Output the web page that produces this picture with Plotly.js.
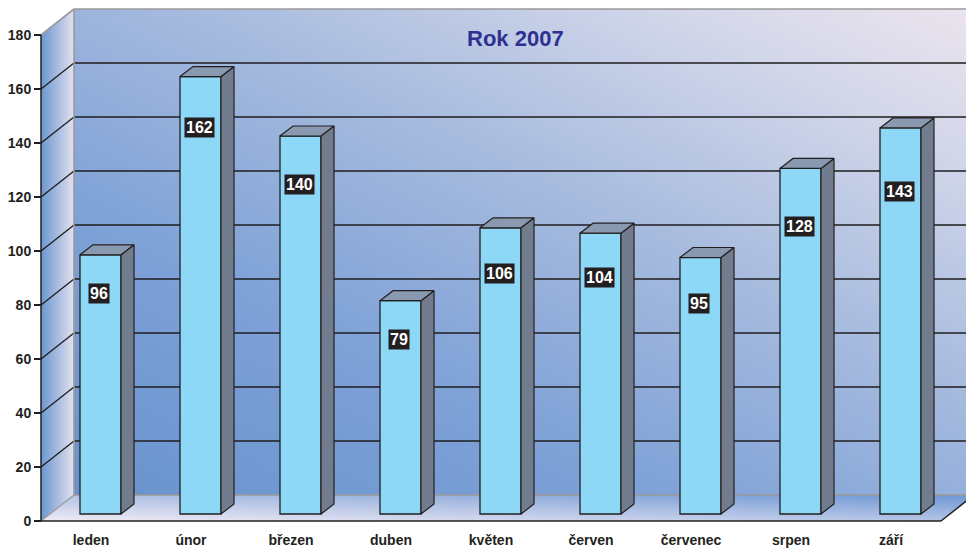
<!DOCTYPE html>
<html>
<head>
<meta charset="utf-8">
<script src="https://cdn.plot.ly/plotly-3.0.1.min.js"></script>
<style>html,body{margin:0;padding:0;background:#fff;}#chart{width:966px;height:549px;}</style>
</head>
<body>
<div id="chart"></div>
<script>
// ---- data ----
const months = ['leden','únor','březen','duben','květen','červen','červenec','srpen','září'];
const values = [96,162,140,79,106,104,95,128,143];
const yTickVals = [0,20,40,60,80,100,120,140,160,180];
const chartTitle = 'Rok 2007';
// label centres (axis units)
const labelY = [84.2,145.6,124.8,67.3,91.5,90.1,80.4,109,122];

// ---- geometry / styling ----
const W = 966, H = 549, ML = 39, MB = 26;
const PW = W - ML, PH = H - MB;
const PXU = 100;          // px per category
const PYU = 2.7;          // px per value unit
const PADX = 2, PADY = 2; // plot area extends a little beyond the front axes
const X0 = -0.5 - PADX / PXU, X1 = X0 + PW / PXU;
const Y0 = -PADY / PYU, Y1 = Y0 + PH / PYU;
const XMIN = -0.5, XEND = 8.5;
const DX = 0.33, DY = 26 / PYU;       // wall depth
const BX = 0.095, BASE = 7 / PYU;     // bar plane offset
const BW = 0.41;                      // bar width
const SX = 0.13, SY = 10 / PYU;       // bar depth
const YTOP = 180;
const FONT = 'Arial, "Liberation Sans", sans-serif';
const DARK = '#231f20', GRID = '#1e1c1e', GRAY = '#9a9a9a';

// pixel mapping inside plot area (for the gradient background image)
const px = x => (x - X0) * PXU;
const py = v => PH - (v - Y0) * PYU;
const pts = arr => arr.map(p => px(p[0]).toFixed(2) + ',' + py(p[1]).toFixed(2)).join(' ');

const backWall = [[XMIN + DX, DY], [X1 + 1, DY], [X1 + 1, YTOP + DY], [XMIN + DX, YTOP + DY]];
const leftWall = [[XMIN, 0], [XMIN + DX, DY], [XMIN + DX, YTOP + DY], [XMIN, YTOP]];
const floor = [[XMIN, 0], [XEND, 0], [XEND + DX, DY], [XMIN + DX, DY]];

const svg = `<svg xmlns="http://www.w3.org/2000/svg" width="${PW}" height="${PH}" viewBox="0 0 ${PW} ${PH}" preserveAspectRatio="none">
<defs>
<linearGradient id="gb" x1="0" y1="1" x2="1" y2="0">
<stop offset="0" stop-color="#6892ce"/><stop offset="0.3" stop-color="#7fa2d7"/><stop offset="0.55" stop-color="#a5bade"/><stop offset="0.8" stop-color="#d3d7ea"/><stop offset="1" stop-color="#f4e8ee"/>
</linearGradient>
<linearGradient id="gl" x1="0" y1="0" x2="1" y2="0">
<stop offset="0" stop-color="#6b97d1"/><stop offset="1" stop-color="#e3e1ef"/>
</linearGradient>
<linearGradient id="gf" x1="0" y1="1" x2="1" y2="0">
<stop offset="0" stop-color="#f0ebf4"/><stop offset="0.5" stop-color="#b2c3e5"/><stop offset="1" stop-color="#6d97d3"/>
</linearGradient>
</defs>
<polygon points="${pts(backWall)}" fill="url(#gb)"/>
<polygon points="${pts(leftWall)}" fill="url(#gl)"/>
<polygon points="${pts(floor)}" fill="url(#gf)"/>
</svg>`;
const svgUri = 'data:image/svg+xml;base64,' + btoa(unescape(encodeURIComponent(svg)));

// ---- shapes: grid and frame ----
const shapes = [];
const line = (x0, y0, x1, y1, color, width) => shapes.push({
  type: 'line', xref: 'x', yref: 'y', x0, y0, x1, y1, layer: 'between',
  line: { color, width }
});
yTickVals.forEach(v => {
  if (v === 0 || v === YTOP) return;
  line(XMIN + DX, v + DY, X1 + 1, v + DY, GRID, 1.3);
  line(XMIN, v, XMIN + DX, v + DY, GRID, 1.3);
});
// gray wall borders
line(XMIN + DX, YTOP + DY, X1 + 1, YTOP + DY, GRAY, 1.6);
line(XMIN, YTOP, XMIN + DX, YTOP + DY, GRAY, 1.6);
line(XMIN + DX, DY, XMIN + DX, YTOP + DY, GRAY, 1.6);
line(XMIN + DX, DY, XEND + DX, DY, GRAY, 1.3);
line(XMIN, 0, XMIN + DX, DY, GRAY, 1.3);
// front axes
line(XMIN, 0, XMIN, YTOP, DARK, 1.5);
line(XMIN, 0, XEND, 0, DARK, 1.5);
line(XEND, 0, XEND + DX, DY, DARK, 1.5);

// ---- traces ----
const xs = months.map((m, i) => i + BX);
const bars = {
  type: 'bar', x: xs, y: values, base: BASE, width: BW,
  marker: { color: '#8cd8f6', line: { color: DARK, width: 1.3 } },
  hoverinfo: 'skip', showlegend: false
};
const sideX = [], sideY = [], topX = [], topY = [];
values.forEach((v, i) => {
  const xl = xs[i] - BW / 2, xr = xs[i] + BW / 2, t = BASE + v;
  sideX.push(xr, xr + SX, xr + SX, xr, xr, null);
  sideY.push(BASE, BASE + SY, t + SY, t, BASE, null);
  topX.push(xl, xr, xr + SX, xl + SX, xl, null);
  topY.push(t, t, t + SY, t + SY, t, null);
});
const sides = {
  type: 'scatter', mode: 'lines', x: sideX, y: sideY, fill: 'toself',
  fillcolor: '#717d8f', line: { color: DARK, width: 1.2 }, hoverinfo: 'skip', showlegend: false
};
const tops = {
  type: 'scatter', mode: 'lines', x: topX, y: topY, fill: 'toself',
  fillcolor: '#8999af', line: { color: DARK, width: 1.2 }, hoverinfo: 'skip', showlegend: false
};

// ---- annotations ----
const annotations = values.map((v, i) => ({
  x: xs[i] - 0.015, y: labelY[i], xref: 'x', yref: 'y', text: String(v), showarrow: false,
  xanchor: 'center', yanchor: 'middle',
  bgcolor: DARK, borderpad: 1,
  font: { family: FONT, size: 16, color: '#ffffff', weight: 'bold' }
}));
annotations.push({
  xref: 'paper', yref: 'paper', x: (515 - ML) / PW, y: 1 - 38 / PH, text: chartTitle,
  xanchor: 'center', yanchor: 'middle',
  showarrow: false, font: { family: FONT, size: 22, color: '#2e3192', weight: 'bold' }
});

const axPosX = PADX / PW, axPosY = PADY / PH;
const layout = {
  width: W, height: H,
  margin: { l: ML, r: 0, t: 0, b: MB, pad: 0 },
  paper_bgcolor: '#ffffff', plot_bgcolor: 'rgba(0,0,0,0)',
  showlegend: false, bargap: 0,
  xaxis: {
    range: [X0, X1], tickvals: months.map((m, i) => i), ticktext: months,
    anchor: 'free', position: axPosY,
    ticks: 'outside', ticklen: 6, tickcolor: 'rgba(0,0,0,0)',
    showgrid: false, zeroline: false, showline: false, fixedrange: true,
    tickfont: { family: FONT, size: 14, color: DARK, weight: 'bold' }
  },
  xaxis2: {
    overlaying: 'x', anchor: 'free', position: axPosY, side: 'bottom', range: [X0, X1],
    tickvals: months.map((m, i) => i - 0.5).concat([XEND]),
    ticks: 'outside', ticklen: 8, tickwidth: 1.3, tickcolor: DARK,
    showticklabels: false, showgrid: false, zeroline: false, showline: false
  },
  yaxis: {
    range: [Y0, Y1], tickvals: yTickVals,
    anchor: 'free', position: axPosX,
    ticks: 'outside', ticklen: 7, tickwidth: 1.3, tickcolor: DARK,
    showgrid: false, zeroline: false, showline: false, fixedrange: true,
    tickfont: { family: FONT, size: 14, color: DARK, weight: 'bold' }
  },
  images: [{
    source: svgUri, xref: 'x', yref: 'y', x: X0, y: Y1, sizex: X1 - X0, sizey: Y1 - Y0,
    xanchor: 'left', yanchor: 'top', sizing: 'stretch', layer: 'below'
  }],
  shapes, annotations
};

Plotly.newPlot('chart', [bars, sides, tops], layout, { displayModeBar: false, staticPlot: true });
</script>
</body>
</html>
